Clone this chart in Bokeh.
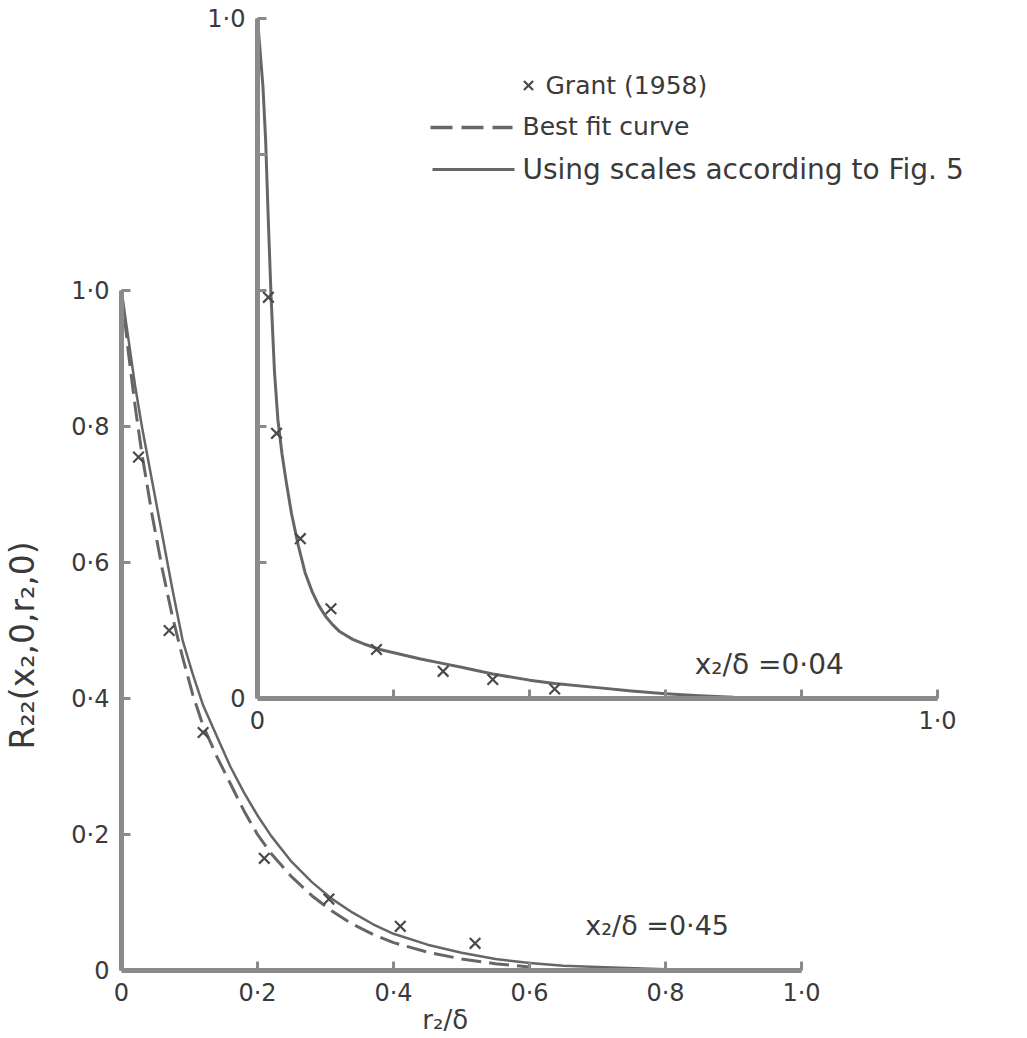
import math
from bokeh.plotting import figure
from bokeh.models import Range1d, FixedTicker, LinearAxis
from bokeh.core.properties import value
from bokeh.embed import file_html
from bokeh.resources import INLINE

# ---------------- data ----------------
# main panel: x2/delta = 0.45
main_grant_x = [0.025, 0.07, 0.12, 0.21, 0.305, 0.41, 0.52]
main_grant_y = [0.755, 0.50, 0.35, 0.165, 0.105, 0.065, 0.04]

main_fit_x = [0.0, 0.01, 0.02, 0.03, 0.045, 0.06, 0.075, 0.09, 0.105, 0.12,
              0.14, 0.16, 0.18, 0.2, 0.22, 0.25, 0.28, 0.31, 0.34, 0.37,
              0.40, 0.45, 0.5, 0.55, 0.6]
main_fit_y = [1.0, 0.91, 0.83, 0.76, 0.67, 0.59, 0.52, 0.46, 0.405, 0.36,
              0.315, 0.275, 0.235, 0.20, 0.172, 0.138, 0.11, 0.087, 0.068, 0.053,
              0.041, 0.027, 0.017, 0.01, 0.005]

main_scaled_x = [0.0, 0.01, 0.02, 0.03, 0.045, 0.06, 0.075, 0.09, 0.105, 0.12,
                 0.14, 0.16, 0.18, 0.2, 0.22, 0.25, 0.28, 0.31, 0.34, 0.37,
                 0.40, 0.45, 0.5, 0.55, 0.6, 0.65, 0.7, 0.8, 0.9, 1.0]
main_scaled_y = [1.0, 0.93, 0.86, 0.80, 0.72, 0.64, 0.56, 0.485, 0.435, 0.39,
                 0.345, 0.30, 0.262, 0.228, 0.198, 0.16, 0.13, 0.105, 0.085, 0.068,
                 0.054, 0.038, 0.026, 0.017, 0.011, 0.007, 0.005, 0.002, 0.001, 0.0]

# inset panel: x2/delta = 0.04
inset_grant_x = [0.016, 0.028, 0.063, 0.108, 0.175, 0.273, 0.346, 0.437]
inset_grant_y = [0.59, 0.39, 0.235, 0.132, 0.072, 0.04, 0.028, 0.014]

inset_scaled_x = [0.0, 0.004, 0.008, 0.012, 0.016, 0.02, 0.025, 0.03, 0.036, 0.042,
                  0.05, 0.06, 0.07, 0.08, 0.09, 0.10, 0.11, 0.12, 0.14, 0.16,
                  0.18, 0.21, 0.24, 0.27, 0.30, 0.346, 0.40, 0.437, 0.5, 0.55,
                  0.6, 0.65, 0.7, 0.8, 1.0]
inset_scaled_y = [1.0, 0.95, 0.90, 0.82, 0.70, 0.59, 0.48, 0.41, 0.36, 0.32,
                  0.272, 0.225, 0.185, 0.158, 0.137, 0.121, 0.109, 0.099, 0.087, 0.079,
                  0.072, 0.065, 0.058, 0.052, 0.046, 0.036, 0.027, 0.022, 0.016, 0.011,
                  0.007, 0.004, 0.002, 0.001, 0.0]

tick_values = [0, 0.2, 0.4, 0.6, 0.8, 1.0]
tick_labels = ["0", "0·2", "0·4", "0·6", "0·8", "1·0"]
inset_tick_labels = ["0", "", "", "", "", "1·0"]

legend_labels = ["Grant (1958)", "Best fit curve", "Using scales according to Fig. 5"]
main_case = "x₂/δ =0·45"
inset_case = "x₂/δ =0·04"
x_title = "r₂/δ"
y_title = "R₂₂(x₂,0,r₂,0)"

# ---------------- styling ----------------
FONT = value("DejaVu Sans")
FS = "24px"
TXT = "#3a3a3a"
AX = "#8a8a8a"
LN = "#666666"
MK = "#4a4a4a"

W, H = 1027, 1038
PX = 680.0                     # pixels per unit on both axes
OX, OY = 121, 970              # pixel position of the main origin
INSET_DX, INSET_DY = 0.2, 0.4  # inset origin in main-axis units

p = figure(width=W, height=H, min_border=0,
           x_range=Range1d(-OX / PX, (W - OX) / PX),
           y_range=Range1d(-(H - OY) / PX, OY / PX),
           x_axis_location=None, y_axis_location=None,
           output_backend="svg", toolbar_location=None, tools="")
p.extra_x_ranges = {"inset": Range1d(-OX / PX - INSET_DX, (W - OX) / PX - INSET_DX)}
p.extra_y_ranges = {"inset": Range1d(-(H - OY) / PX - INSET_DY, OY / PX - INSET_DY)}

p.outline_line_color = None
p.grid.visible = False
p.background_fill_color = "white"
p.border_fill_color = "white"


def styled_axis(labels, standoff, **kw):
    ax = LinearAxis(fixed_location=0, **kw)
    ax.ticker = FixedTicker(ticks=tick_values)
    ax.bounds = (0, 1)
    ax.major_label_overrides = {v: s for v, s in zip(tick_values, labels)}
    ax.major_tick_in = 9
    ax.major_tick_out = 0
    ax.minor_tick_line_color = None
    ax.axis_line_width = 5
    ax.axis_line_color = AX
    ax.major_tick_line_color = AX
    ax.major_tick_line_width = 3
    ax.major_label_text_font = "DejaVu Sans"
    ax.major_label_text_font_size = FS
    ax.major_label_text_color = TXT
    ax.major_label_standoff = standoff
    return ax


p.add_layout(styled_axis(tick_labels, 8), "below")
p.add_layout(styled_axis(tick_labels, 12), "left")
p.add_layout(styled_axis(inset_tick_labels, 8, x_range_name="inset",
                         y_range_name="inset"), "below")
p.add_layout(styled_axis(inset_tick_labels, 12, x_range_name="inset",
                         y_range_name="inset"), "left")

# axis titles
p.text(x=[0.476], y=[-49 / PX], text=[x_title], text_font=FONT, text_font_size="26px",
       text_color=TXT, text_align="center", text_baseline="middle")
p.text(x=[-99 / PX], y=[0.478], text=[y_title], text_font=FONT, text_font_size="33px",
       text_color=TXT, text_align="center", text_baseline="middle", angle=math.pi / 2)

# ---------------- main panel ----------------
p.line(main_fit_x, main_fit_y, line_color=LN, line_width=3, line_dash="20 8",
       line_join="round")
p.line(main_scaled_x, main_scaled_y, line_color=LN, line_width=2.5, line_join="round")
p.scatter(main_grant_x, main_grant_y, marker="x", size=15, line_color=MK, line_width=2.2)
p.text(x=[0.682], y=[0.066], text=[main_case], text_font=FONT, text_font_size="27px",
       text_color=TXT, text_baseline="middle", text_align="left")

# ---------------- inset panel (own ranges) ----------------
ins = dict(x_range_name="inset", y_range_name="inset")
p.line(inset_scaled_x, inset_scaled_y, line_color=LN, line_width=3,
       line_join="round", **ins)
p.scatter(inset_grant_x, inset_grant_y, marker="x", size=15, line_color=MK,
          line_width=2.2, **ins)
p.text(x=[0.643], y=[0.05], text=[inset_case], text_font=FONT, text_font_size="28px",
       text_color=TXT, text_baseline="middle", text_align="left", **ins)

# ---------------- legend (drawn in main units) ----------------
def ux(px):
    return (px - OX) / PX

def uy(py):
    return (OY - py) / PX

p.scatter([ux(528)], [uy(85)], marker="x", size=13, line_color=MK, line_width=2.2)
p.line([ux(430), ux(512)], [uy(127), uy(127)], line_color=LN,
       line_width=3.5, line_dash="22 9")
p.line([ux(432), ux(514)], [uy(169), uy(169)], line_color=LN, line_width=3)
p.text(x=[ux(545), ux(522)], y=[uy(85), uy(126)],
       text=legend_labels[:2], text_font=FONT, text_font_size="25px",
       text_color=TXT, text_baseline="middle", text_align="left")
p.text(x=[ux(522)], y=[uy(169)], text=legend_labels[2:], text_font=FONT,
       text_font_size="28px", text_color=TXT, text_baseline="middle", text_align="left")

open("out.html", "w").write(file_html(p, INLINE))
